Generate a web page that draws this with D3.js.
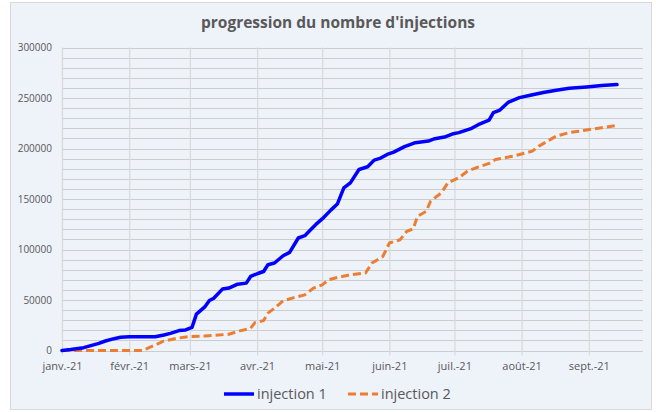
<!DOCTYPE html>
<html>
<head>
<meta charset="utf-8">
<script src="https://cdn.jsdelivr.net/npm/d3@7"></script>
<style>
  html, body { margin: 0; padding: 0; background: #ffffff; }
  svg { display: block; }
</style>
</head>
<body>
<svg id="chart" width="656" height="412"></svg>
<script>
// values (cumulative injections)
var dates1 = ["2021-01-01","2021-01-05","2021-01-11","2021-01-18","2021-01-21","2021-01-25","2021-01-28",
  "2021-02-01","2021-02-13","2021-02-17","2021-02-20","2021-02-24","2021-02-27","2021-03-02","2021-03-04",
  "2021-03-08","2021-03-10","2021-03-12","2021-03-16","2021-03-19","2021-03-23","2021-03-27","2021-03-29",
  "2021-04-01","2021-04-04","2021-04-06","2021-04-09","2021-04-13","2021-04-16","2021-04-20","2021-04-23",
  "2021-04-25","2021-04-28","2021-05-01","2021-05-05","2021-05-08","2021-05-11","2021-05-14","2021-05-18",
  "2021-05-22","2021-05-25","2021-05-28","2021-05-31","2021-06-03","2021-06-08","2021-06-13","2021-06-19",
  "2021-06-22","2021-06-27","2021-06-30","2021-07-03","2021-07-09","2021-07-12","2021-07-17","2021-07-19",
  "2021-07-22","2021-07-26","2021-07-31","2021-08-05","2021-08-11","2021-08-17","2021-08-23","2021-08-31",
  "2021-09-07","2021-09-14"];
var injection1 = [0,1000,2800,7000,9400,11700,13100,
  13700,13700,15400,17000,19700,20400,23000,36000,
  43500,49500,51800,60800,61800,65700,66700,73300,
  76000,78200,84900,86600,93800,97100,111400,113700,
  118000,124600,130300,139000,145000,161000,166000,179200,
  181900,188500,190500,194100,196400,201800,205800,207400,
  209700,211700,214300,215700,220000,223600,228000,235500,
  238100,246000,250400,252700,255400,257700,259700,261000,
  262400,263300];

var dates2 = ["2021-01-01","2021-02-07","2021-02-13","2021-02-17","2021-02-23","2021-02-28","2021-03-08",
  "2021-03-19","2021-03-24","2021-03-29","2021-03-31","2021-04-04","2021-04-06","2021-04-09","2021-04-13",
  "2021-04-18","2021-04-23","2021-04-27","2021-05-01","2021-05-04","2021-05-08","2021-05-14","2021-05-21",
  "2021-05-24","2021-05-29","2021-06-01","2021-06-06","2021-06-09","2021-06-12","2021-06-14","2021-06-18",
  "2021-06-20","2021-06-25","2021-06-28","2021-07-03","2021-07-07","2021-07-11","2021-07-17","2021-07-20",
  "2021-07-28","2021-08-06","2021-08-09","2021-08-17","2021-08-23","2021-08-31","2021-09-07","2021-09-14"];
var injection2 = [0,0,5500,9400,12100,13700,14400,
  16100,19400,22000,27600,29600,37000,41900,49200,
  52400,55100,61800,65000,70000,72300,75000,76700,
  86600,93100,106400,109700,118000,120400,132900,137800,
  147800,156100,166000,171000,177500,180900,185200,189200,
  192400,197400,202400,212300,215700,218300,220600,222900];

var monthLabels = ["janv.-21","févr.-21","mars-21","avr.-21","mai-21","juin-21","juil.-21","août-21","sept.-21"];
var yTicks = [0,50000,100000,150000,200000,250000,300000];
var seriesNames = ["injection 1","injection 2"];

var parse = d3.timeParse("%Y-%m-%d");
var svg = d3.select("#chart");
var textColor = "#595959";

var plotLeft = 62, plotRight = 643, plotTop = 47.5, plotBottom = 350.5;

var x = d3.scaleTime()
    .domain([parse("2021-01-01"), parse("2021-09-26")])
    .range([plotLeft, plotRight]);
var y = d3.scaleLinear()
    .domain([0, 300000])
    .range([plotBottom, plotTop]);

// chart background + border
svg.append("rect")
    .attr("x", 10.5).attr("y", 2.5)
    .attr("width", 641).attr("height", 407)
    .attr("fill", "#eef2f9")
    .attr("stroke", "#d9d9d9");

// title
svg.append("text")
    .attr("x", 338).attr("y", 28)
    .attr("text-anchor", "middle")
    .attr("font-family", "'Open Sans', sans-serif")
    .attr("font-weight", "bold")
    .attr("font-size", "15.5px")
    .attr("fill", textColor)
    .text("progression du nombre d'injections");

// horizontal grid every 10000
var grid = svg.append("g");
grid.selectAll("line.h")
    .data(d3.range(0, 300001, 10000))
    .enter().append("line")
    .attr("class", "h")
    .attr("x1", plotLeft).attr("x2", plotRight)
    .attr("y1", function(d) { return Math.round(y(d)) + 0.5; })
    .attr("y2", function(d) { return Math.round(y(d)) + 0.5; })
    .attr("stroke", "#cdcdcd")
    .attr("stroke-width", 1.2);

// x axis (month ticks go down through the plot as grid lines)
var months = d3.timeMonth.range(parse("2021-01-01"), parse("2021-09-02"));
var xAxis = d3.axisBottom(x)
    .tickValues(months)
    .tickSize(plotBottom - plotTop + 5)
    .tickSizeOuter(0)
    .tickFormat(function(d, i) { return monthLabels[i]; });

var gx = svg.append("g")
    .attr("transform", "translate(0," + plotTop + ")")
    .call(xAxis);
gx.select(".domain").remove();
gx.selectAll(".tick line")
    .attr("stroke", "#d9d9d9")
    .attr("stroke-width", 1.2);
gx.selectAll(".tick text")
    .attr("y", plotBottom - plotTop + 12)
    .attr("fill", textColor)
    .attr("font-family", "'Open Sans', sans-serif")
    .attr("font-size", "11px");

// y axis labels
var yAxis = d3.axisLeft(y)
    .tickValues(yTicks)
    .tickSize(0)
    .tickPadding(10)
    .tickFormat(d3.format("d"));
var gy = svg.append("g")
    .attr("transform", "translate(" + plotLeft + ",0)")
    .call(yAxis);
gy.select(".domain").remove();
gy.selectAll(".tick text")
    .attr("fill", textColor)
    .attr("font-family", "'Open Sans', sans-serif")
    .attr("font-size", "10px");

// series
function toPoints(dates, vals) {
    return dates.map(function(d, i) { return { date: parse(d), value: vals[i] }; });
}
var line = d3.line()
    .x(function(d) { return x(d.date); })
    .y(function(d) { return y(d.value); });

svg.append("path")
    .datum(toPoints(dates2, injection2))
    .attr("d", line)
    .attr("fill", "none")
    .attr("stroke", "#ed7d31")
    .attr("stroke-width", 3)
    .attr("stroke-dasharray", "8,4")
    .attr("stroke-linejoin", "round");

svg.append("path")
    .datum(toPoints(dates1, injection1))
    .attr("d", line)
    .attr("fill", "none")
    .attr("stroke", "#0000ff")
    .attr("stroke-width", 3.5)
    .attr("stroke-linejoin", "round")
    .attr("stroke-linecap", "round");

// legend
var legend = svg.append("g").attr("transform", "translate(0,394)");
var legendItems = [
    { name: seriesNames[0], color: "#0000ff", dash: null, x: 224, w: 3.5 },
    { name: seriesNames[1], color: "#ed7d31", dash: "8,4", x: 348, w: 3 }
];
legendItems.forEach(function(it) {
    legend.append("line")
        .attr("x1", it.x).attr("x2", it.x + 30)
        .attr("y1", 0).attr("y2", 0)
        .attr("stroke", it.color)
        .attr("stroke-width", it.w)
        .attr("stroke-dasharray", it.dash);
    legend.append("text")
        .attr("x", it.x + 33).attr("y", 5)
        .attr("fill", textColor)
        .attr("font-family", "'Open Sans', sans-serif")
        .attr("font-size", "14.5px")
        .text(it.name);
});
</script>
</body>
</html>
